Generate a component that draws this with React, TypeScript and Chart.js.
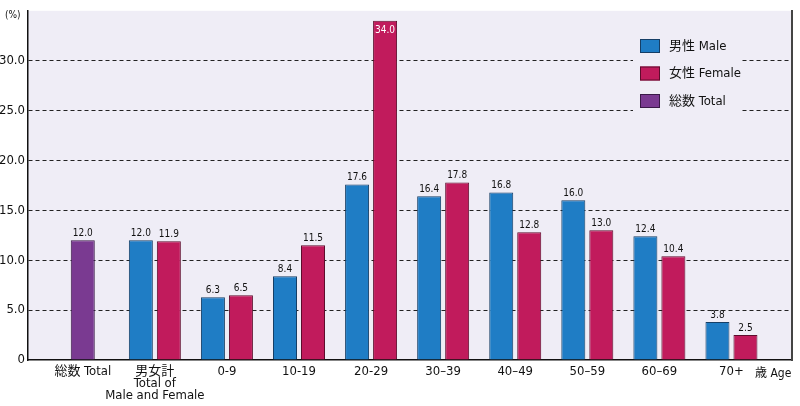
import { useEffect, useRef } from "react";
import { Chart, registerables } from "chart.js";

Chart.register(...registerables);

const CATEGORIES: (string | string[])[] = [
  "総数 Total",
  ["男女計", "Total of", "Male and Female"],
  "0-9",
  "10-19",
  "20-29",
  "30–39",
  "40–49",
  "50–59",
  "60–69",
  "70+",
];

const SERIES_LABELS = ["男性 Male", "女性 Female", "総数 Total"];

const MALE = [null, 12.0, 6.3, 8.4, 17.6, 16.4, 16.8, 16.0, 12.4, 3.8];
const FEMALE = [null, 11.9, 6.5, 11.5, 34.0, 17.8, 12.8, 13.0, 10.4, 2.5];
const TOTAL = [12.0, null, null, null, null, null, null, null, null, null];

const Y_TICKS_MAX = 30;

const FONT = '"DejaVu Sans Condensed", "Noto Sans CJK JP", sans-serif';
const PLOT_BG = "#EFEDF6";
const FILLS = ["#1F7DC5", "#C11B5C", "#7A3A91"];
const EDGES = ["#163F66", "#5E0C2C", "#3A1A48"];

const toPoints = (arr: (number | null)[]) => arr.map((v, i) => ({ x: i, y: v }));

const plotBackground = {
  id: "plotBackground",
  beforeDraw(chart: any) {
    const { ctx, chartArea: a } = chart;
    ctx.save();
    ctx.fillStyle = PLOT_BG;
    ctx.fillRect(a.left, a.top, a.right - a.left, a.bottom - a.top);
    ctx.restore();
  },
};

const valueLabels = {
  id: "valueLabels",
  afterDatasetsDraw(chart: any) {
    const ctx = chart.ctx;
    ctx.save();
    ctx.font = `10px ${FONT}`;
    ctx.textAlign = "center";
    ctx.textBaseline = "alphabetic";
    chart.data.datasets.forEach((ds: any, di: number) => {
      const meta = chart.getDatasetMeta(di);
      meta.data.forEach((bar: any, i: number) => {
        const v = ds.data[i].y;
        if (v == null) return;
        const text = v.toFixed(1);
        if (v > Y_TICKS_MAX) {
          ctx.fillStyle = "#ffffff";
          ctx.fillText(text, bar.x, bar.y + 12);
        } else {
          ctx.fillStyle = "#111";
          ctx.fillText(text, bar.x, bar.y - 4);
        }
      });
    });
    ctx.restore();
  },
};

const extras = {
  id: "extras",
  afterDraw(chart: any) {
    const ctx = chart.ctx;
    ctx.save();
    // legend block
    ctx.fillStyle = PLOT_BG;
    ctx.fillRect(633, 30, 109, 86);
    ctx.font = `13px ${FONT}`;
    ctx.textBaseline = "middle";
    ctx.textAlign = "left";
    chart.data.datasets.forEach((ds: any, i: number) => {
      const y = 39 + i * 27.5;
      ctx.fillStyle = ds.backgroundColor;
      ctx.fillRect(640, y, 20, 14);
      ctx.strokeStyle = ds.borderColor;
      ctx.lineWidth = 1;
      ctx.strokeRect(640.5, y + 0.5, 19, 13);
      ctx.fillStyle = "#111";
      ctx.fillText(ds.label, 669, y + 7.5);
    });
    // unit labels
    ctx.font = `10px ${FONT}`;
    ctx.textBaseline = "alphabetic";
    ctx.fillText("(%)", 5, 18);
    ctx.font = `12px ${FONT}`;
    ctx.textBaseline = "middle";
    ctx.fillText("歳 Age", 755, 374);
    ctx.restore();
  },
};

export default function App() {
  const canvasRef = useRef<HTMLCanvasElement>(null);

  useEffect(() => {
    if (!canvasRef.current) return;
    const chart = new Chart(canvasRef.current, {
      type: "bar",
      data: {
        datasets: [
          { label: SERIES_LABELS[0], data: toPoints(MALE), backgroundColor: FILLS[0], borderColor: EDGES[0], borderWidth: 1 },
          { label: SERIES_LABELS[1], data: toPoints(FEMALE), backgroundColor: FILLS[1], borderColor: EDGES[1], borderWidth: 1 },
          { label: SERIES_LABELS[2], data: toPoints(TOTAL), backgroundColor: FILLS[2], borderColor: EDGES[2], borderWidth: 1 },
        ] as any,
      },
      options: {
        animation: false,
        responsive: true,
        maintainAspectRatio: false,
        layout: { padding: { top: 6, left: 0, right: 0, bottom: 0 } },
        datasets: {
          bar: { skipNull: true, categoryPercentage: 0.777, barPercentage: 0.857, maxBarThickness: 24 },
        },
        scales: {
          x: {
            type: "linear",
            min: -0.76,
            max: 9.84,
            offset: false,
            grid: { display: false, drawTicks: false, offset: false },
            border: { display: true, color: "#111", width: 1.5 },
            ticks: {
              stepSize: 1,
              includeBounds: false,
              autoSkip: false,
              maxRotation: 0,
              padding: 5,
              color: "#111",
              font: { family: FONT, size: 13, lineHeight: 0.95 },
              callback: (v: any) => (Number.isInteger(v) ? (CATEGORIES[v] as any) : ""),
            },
            afterFit: (s: any) => { s.height = 46; },
          },
          y: {
            min: 0,
            max: 35,
            grid: {
              drawTicks: false,
              lineWidth: 1,
              color: (c: any) => (c.tick && c.tick.value > 0 && c.tick.value <= Y_TICKS_MAX ? "#222" : "rgba(0,0,0,0)"),
            },
            border: { display: true, color: "#111", width: 1.5, dash: [4, 3] },
            ticks: {
              stepSize: 5,
              padding: 3,
              color: "#111",
              font: { family: FONT, size: 13 },
              callback: (v: any) => (v === 0 ? "0" : v > Y_TICKS_MAX ? "" : Number(v).toFixed(1)),
            },
            afterFit: (s: any) => { s.width = 28; },
          },
          y2: {
            position: "right",
            display: true,
            grid: { display: false, drawTicks: false },
            ticks: { display: false },
            border: { display: true, color: "#444", width: 2 },
            afterFit: (s: any) => { s.width = 8; },
          },
        },
        plugins: {
          legend: { display: false },
          tooltip: { enabled: false },
        },
      } as any,
      plugins: [plotBackground, valueLabels, extras],
    });
    return () => chart.destroy();
  }, []);

  return (
    <div style={{ position: "fixed", left: 0, top: 0, width: 800, height: 406, background: "#fff" }}>
      <canvas ref={canvasRef} />
    </div>
  );
}
